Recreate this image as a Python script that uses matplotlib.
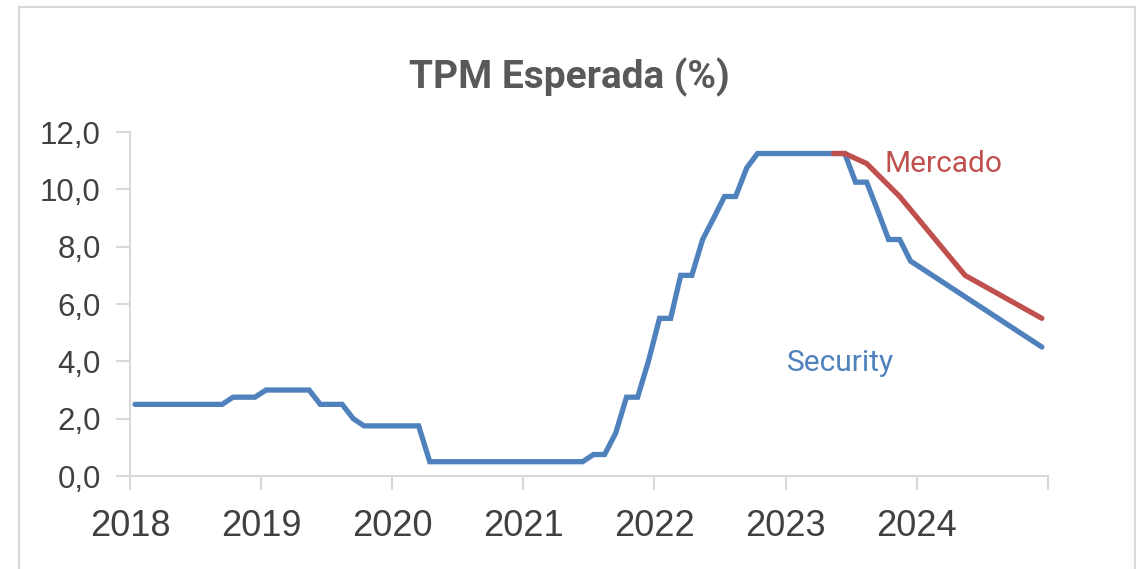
import numpy as np
import pandas as pd
import matplotlib
matplotlib.use("Agg")
import matplotlib.pyplot as plt
from matplotlib.ticker import FuncFormatter
from matplotlib.patches import Rectangle

# TPM observada / proyeccion Security (mensual, ene-2018 a dic-2023)
security_hist = [
    2.5, 2.5, 2.5, 2.5, 2.5, 2.5, 2.5, 2.5, 2.5, 2.75, 2.75, 2.75,          # 2018
    3.0, 3.0, 3.0, 3.0, 3.0, 2.5, 2.5, 2.5, 2.0, 1.75, 1.75, 1.75,          # 2019
    1.75, 1.75, 1.75, 0.5, 0.5, 0.5, 0.5, 0.5, 0.5, 0.5, 0.5, 0.5,         # 2020
    0.5, 0.5, 0.5, 0.5, 0.5, 0.5, 0.75, 0.75, 1.5, 2.75, 2.75, 4.0,        # 2021
    5.5, 5.5, 7.0, 7.0, 8.25, 9.0, 9.75, 9.75, 10.75, 11.25, 11.25, 11.25,  # 2022
    11.25, 11.25, 11.25, 11.25, 11.25, 11.25, 10.25, 10.25, 9.25, 8.25, 8.25, 7.5,  # 2023
]
security_fc_meses = ["2024-06", "2024-12"]
security_fc = [6.0, 4.5]

# Expectativa de mercado
mercado_meses = ["2023-05", "2023-06", "2023-08", "2023-11", "2024-05", "2024-12"]
mercado = [11.25, 11.25, 10.9, 9.75, 7.0, 5.5]

anios = list(range(2018, 2026))

azul = "#4F81BD"
rojo = "#C0504D"
gris_txt = "#404040"
gris_eje = "#D9D9D9"


def mitad_mes(meses):
    return pd.to_datetime(meses) + pd.Timedelta(days=14)


sec_fechas = list(mitad_mes(pd.date_range("2018-01", periods=len(security_hist), freq="MS")))
sec_fechas += list(mitad_mes(security_fc_meses))
sec_vals = security_hist + security_fc
mer_fechas = mitad_mes(mercado_meses)

fig = plt.figure(figsize=(11.38, 5.69), dpi=100)
ax = fig.add_axes([0.1142, 0.1634, 0.8067, 0.6046])

ax.plot(sec_fechas, sec_vals, color=azul, lw=3.8, solid_capstyle="round", solid_joinstyle="miter")
ax.plot(mer_fechas, mercado, color=rojo, lw=3.8, solid_capstyle="round", solid_joinstyle="miter")

ax.set_ylim(0, 12)
ax.set_yticks(np.arange(0, 12.1, 2))
ax.yaxis.set_major_formatter(FuncFormatter(lambda v, p: f"{v:.1f}".replace(".", ",")))
ax.set_xlim(pd.Timestamp("2018-01-01"), pd.Timestamp("2025-01-01"))
ticks = [pd.Timestamp(f"{a}-01-01") for a in anios]
ax.set_xticks(ticks)
ax.set_xticklabels([str(a) if a < 2025 else "" for a in anios])

for s in ["top", "right"]:
    ax.spines[s].set_visible(False)
for s in ["left", "bottom"]:
    ax.spines[s].set_color(gris_eje)
    ax.spines[s].set_linewidth(1.5)
ax.tick_params(axis="both", color=gris_eje, width=1.5, length=10, labelcolor=gris_txt)
ax.tick_params(axis="y", labelsize=22.5, pad=11)
ax.tick_params(axis="x", labelsize=26, pad=14)
for lbl in ax.get_xticklabels() + ax.get_yticklabels():
    lbl.set_family("Liberation Sans")

fig.text(0.5, 0.865, "TPM Esperada (%)", ha="center", va="center",
         fontsize=28, fontweight="bold", color="#595959", family="Roboto")

ax.text(pd.Timestamp("2023-10-05"), 10.9, "Mercado", color=rojo, fontsize=21.5,
        family="Roboto", ha="left", va="center")
ax.text(pd.Timestamp("2023-01-05"), 3.95, "Security", color=azul, fontsize=21.5,
        family="Roboto", ha="left", va="center")

# marco del grafico
fig.patches.append(Rectangle((19 / 1138, -0.05), (1135 - 19) / 1138, 1.05 - 7 / 569,
                             transform=fig.transFigure, fill=False,
                             edgecolor=gris_eje, lw=1.5))

fig.savefig("out.png", dpi=100)
